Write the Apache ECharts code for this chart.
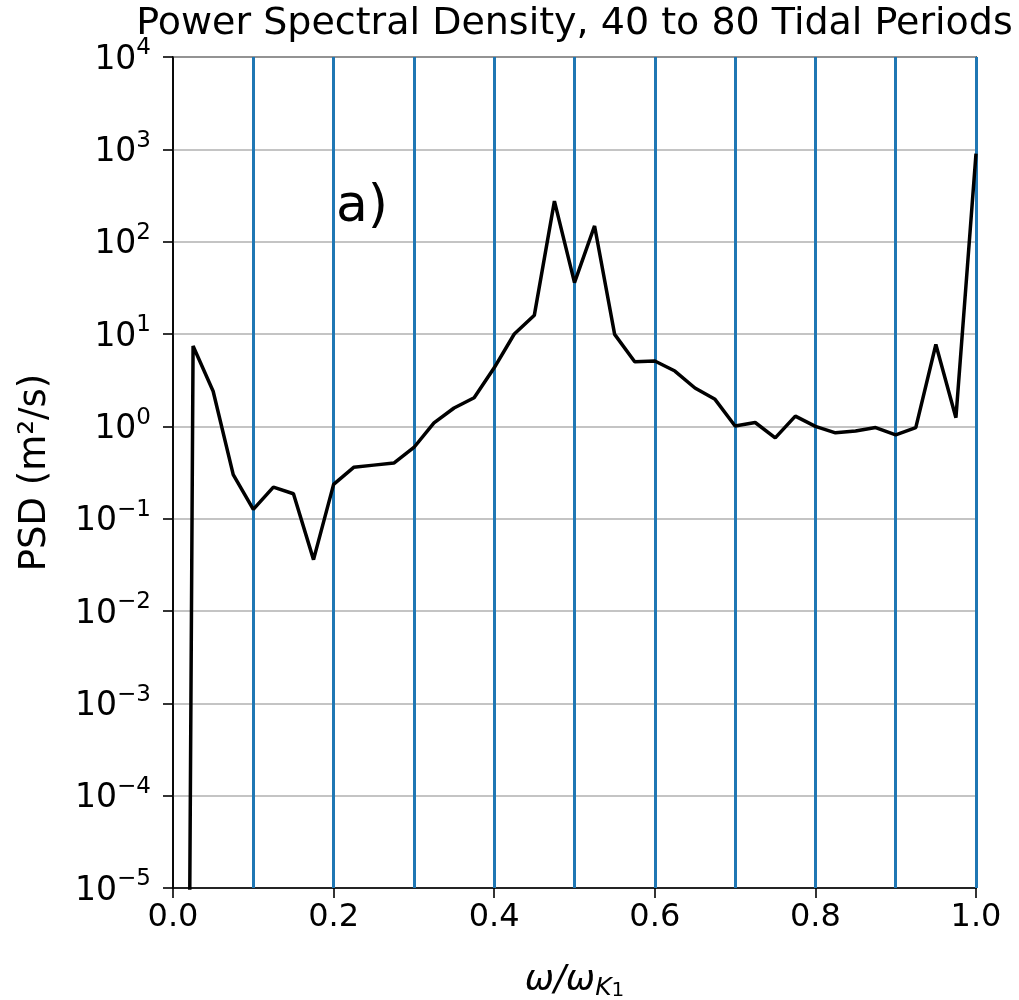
<!DOCTYPE html>
<html>
<head>
<meta charset="utf-8">
<script src="https://cdn.jsdelivr.net/npm/echarts@6/dist/echarts.min.js"></script>
<style>html,body{margin:0;padding:0;background:#fff}#c{width:1019px;height:1000px}</style>
</head>
<body>
<div id="c"></div>
<script>
// frequency ratio omega / omega_K1
const freqs = [0.0, 0.025, 0.05, 0.075, 0.1, 0.125, 0.15, 0.175, 0.2, 0.225,
  0.25, 0.275, 0.3, 0.325, 0.35, 0.375, 0.4, 0.425, 0.45, 0.475,
  0.5, 0.525, 0.55, 0.575, 0.6, 0.625, 0.65, 0.675, 0.7, 0.725,
  0.75, 0.775, 0.8, 0.825, 0.85, 0.875, 0.9, 0.925, 0.95, 0.975, 1.0];
// PSD (m^2/s)
const psd = [1e-35, 7.4, 2.4, 0.30, 0.126, 0.22, 0.186, 0.036, 0.235, 0.36,
  0.38, 0.40, 0.59, 1.09, 1.58, 2.04, 4.3, 10, 16, 275,
  36, 148, 9.9, 5.0, 5.1, 3.97, 2.6, 1.96, 1.01, 1.1,
  0.75, 1.29, 1.0, 0.85, 0.89, 0.97, 0.81, 0.97, 7.7, 1.24, 900];
// vertical reference lines
const vlines = [0.1, 0.2, 0.3, 0.4, 0.5, 0.6, 0.7, 0.8, 0.9, 1.0];
const xTicks = [0.0, 0.2, 0.4, 0.6, 0.8, 1.0];
const yMinExp = -5, yMaxExp = 4;

const FONT = 'DejaVu Sans';
const chart = echarts.init(document.getElementById('c'), null, {renderer: 'canvas'});
const sup = e => (e < 0 ? '\u2212' + (-e) : '' + e);

const option = {
  backgroundColor: '#fff',
  animation: false,
  textStyle: {fontFamily: FONT},
  grid: {left: 173, right: 43, top: 57, bottom: 112, show: true, borderColor: '#000', borderWidth: 1.6,
    containLabel: false, outerBoundsMode: 'none'},
  graphic: [
    {type: 'text', x: 574.5, y: 24.5, style: {text: 'Power Spectral Density, 40 to 80 Tidal Periods', fontFamily: FONT, fontSize: 38, fill: '#000', align: 'center', verticalAlign: 'middle'}},
    {type: 'text', x: 336, y: 207, z: 50, style: {text: 'a)', fontFamily: FONT, fontSize: 52, fill: '#000', align: 'left', verticalAlign: 'middle'}}
  ],
  xAxis: {
    type: 'value', min: 0, max: 1, interval: 0.2,
    axisLine: {show: true, onZero: false, lineStyle: {color: '#000', width: 1.6}},
    axisTick: {show: true, inside: false, length: 10, lineStyle: {color: '#000', width: 1.6}},
    splitLine: {show: false},
    axisLabel: {fontFamily: FONT, fontSize: 32, color: '#000', margin: 14,
      formatter: v => v.toFixed(1)},
    name: '{i|\u03c9/\u03c9}{s|K}{t|1}',
    nameLocation: 'middle', nameGap: 73,
    nameTextStyle: {fontFamily: FONT, color: '#000',
      rich: {
        i: {fontFamily: FONT, fontSize: 35, fontStyle: 'italic', color: '#000', lineHeight: 40},
        s: {fontFamily: FONT, fontSize: 25, fontStyle: 'italic', color: '#000', verticalAlign: 'bottom', padding: [16, 0, 0, 0], lineHeight: 40},
        t: {fontFamily: FONT, fontSize: 20, color: '#000', verticalAlign: 'bottom', padding: [20, 0, 0, 0], lineHeight: 40}
      }}
  },
  yAxis: {
    type: 'log', logBase: 10, min: Math.pow(10, yMinExp), max: Math.pow(10, yMaxExp), interval: 1, splitNumber: 9,
    axisLine: {show: true, onZero: false, lineStyle: {color: '#000', width: 1.6}},
    axisTick: {show: true, inside: false, length: 10, lineStyle: {color: '#000', width: 1.6}},
    minorTick: {show: false},
    splitLine: {show: true, lineStyle: {color: '#b0b0b0', width: 1.6}},
    axisLabel: {fontFamily: FONT, color: '#000', margin: 22,
      formatter: v => {
        const e = Math.round(Math.log10(v));
        return '{b|10}{p|' + sup(e) + '}';
      },
      rich: {
        b: {fontFamily: FONT, fontSize: 33, color: '#000', lineHeight: 40, padding: [6, 0, 0, 0]},
        p: {fontFamily: FONT, fontSize: 23, color: '#000', verticalAlign: 'top', padding: [0, 0, 12, 0], lineHeight: 40}
      }
    },
    name: 'PSD (m\u00b2/s)',
    nameLocation: 'middle', nameGap: 138, nameRotate: 90,
    nameTextStyle: {fontFamily: FONT, fontSize: 37, color: '#000', verticalAlign: 'middle'}
  },
  series: [
    {
      type: 'line', name: 'vlines', z: 1, silent: true,
      data: freqs.map((f, i) => [f, psd[i]]),
      showSymbol: false, lineStyle: {opacity: 0}, itemStyle: {opacity: 0},
      markLine: {silent: true, symbol: ['none', 'none'], label: {show: false},
        lineStyle: {color: '#1f77b4', width: 3, type: 'solid'},
        data: vlines.map(v => ({xAxis: v}))}
    },
    {
      type: 'line', name: 'PSD', z: 5,
      data: freqs.map((f, i) => [f, psd[i]]),
      showSymbol: false, symbol: 'none', clip: true,
      lineStyle: {color: '#000', width: 3.5}
    }
  ]
};
chart.setOption(option);
</script>
</body>
</html>
